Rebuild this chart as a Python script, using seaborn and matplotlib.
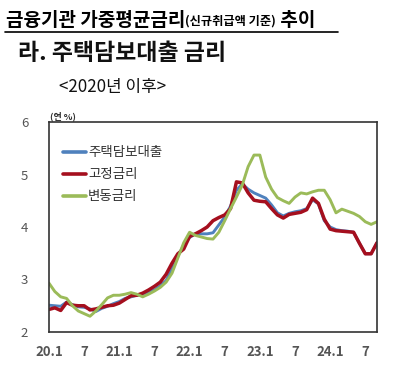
import matplotlib
matplotlib.use("Agg")
import matplotlib.pyplot as plt
import seaborn as sns
import pandas as pd
from matplotlib.lines import Line2D

# ---------------- data ----------------
series_names = ["주택담보대출", "고정금리", "변동금리"]
months = list(range(57))  # 2020.1 ... 2024.9
mortgage = [2.51, 2.50, 2.49, 2.57, 2.52, 2.48, 2.47, 2.44, 2.39, 2.45,
            2.49, 2.54, 2.58, 2.64, 2.67, 2.70, 2.72, 2.76, 2.80, 2.88,
            2.98, 3.20, 3.45, 3.65, 3.80, 3.87, 3.87, 3.87, 3.89, 4.04,
            4.19, 4.40, 4.70, 4.82, 4.72, 4.65, 4.60, 4.55, 4.42, 4.27,
            4.21, 4.26, 4.29, 4.31, 4.35, 4.52, 4.44, 4.12, 4.00, 3.95,
            3.93, 3.92, 3.90, 3.69, 3.49, 3.49, 3.70]
fixed = [2.43, 2.46, 2.41, 2.56, 2.51, 2.50, 2.50, 2.42, 2.44, 2.47,
         2.50, 2.51, 2.55, 2.62, 2.69, 2.70, 2.74, 2.80, 2.87, 2.95,
         3.10, 3.31, 3.49, 3.58, 3.82, 3.87, 3.93, 4.00, 4.12, 4.18,
         4.23, 4.35, 4.86, 4.84, 4.65, 4.51, 4.49, 4.48, 4.35, 4.23,
         4.17, 4.24, 4.26, 4.28, 4.33, 4.55, 4.45, 4.15, 3.96, 3.93,
         3.92, 3.91, 3.90, 3.69, 3.49, 3.49, 3.70]
variable = [2.93, 2.77, 2.67, 2.64, 2.50, 2.40, 2.35, 2.30, 2.40, 2.52,
            2.65, 2.70, 2.70, 2.72, 2.75, 2.72, 2.67, 2.72, 2.78, 2.85,
            2.95, 3.12, 3.41, 3.70, 3.90, 3.84, 3.81, 3.78, 3.77, 3.90,
            4.12, 4.35, 4.57, 4.80, 5.15, 5.37, 5.37, 4.95, 4.72, 4.56,
            4.50, 4.45, 4.57, 4.65, 4.63, 4.67, 4.70, 4.70, 4.52, 4.27,
            4.34, 4.30, 4.26, 4.20, 4.10, 4.05, 4.10]
x_tick_pos = [0, 6, 12, 18, 24, 30, 36, 42, 48, 54]
x_tick_labels = ["20.1", "7", "21.1", "7", "22.1", "7", "23.1", "7", "24.1", "7"]
y_ticks = [2, 3, 4, 5, 6]

df = pd.DataFrame({
    "month": months * 3,
    "rate": mortgage + fixed + variable,
    "series": [series_names[0]] * 57 + [series_names[1]] * 57 + [series_names[2]] * 57,
})

# ---------------- style ----------------
sns.set_style("white")
plt.rcParams["font.family"] = ["Noto Sans CJK KR", "DejaVu Sans"]

colors = {"주택담보대출": "#4f81bd", "고정금리": "#a50f1e", "변동금리": "#9bbb59"}

W, H = 411, 381
fig = plt.figure(figsize=(W / 100, H / 100), dpi=100)
ax = fig.add_axes([49 / W, 1 - 332 / H, (377 - 49) / W, (332 - 122) / H])

sns.lineplot(data=df, x="month", y="rate", hue="series", palette=colors,
             hue_order=series_names, linewidth=2.2, ax=ax, legend=False)
for ln, lw in zip(ax.get_lines(), [2.1, 2.5, 2.1]):
    ln.set_linewidth(lw)
    ln.set_solid_joinstyle("round")

ax.set_xlim(0, 56)
ax.set_ylim(2, 6)
ax.set_xlabel("")
ax.set_ylabel("")
ax.set_yticks(y_ticks)
ax.set_yticklabels([str(v) for v in y_ticks], fontsize=9.5, color="#555555")
minor = [m for m in range(0, 57, 3) if m not in x_tick_pos]
ax.set_xticks(x_tick_pos)
ax.set_xticklabels(x_tick_labels, fontsize=9.5, color="#555555", fontweight="bold")
ax.set_xticks(minor, minor=True)
ax.tick_params(axis="x", which="both", direction="in", length=5, width=1, color="#333333", pad=9)
ax.tick_params(axis="y", which="both", direction="in", length=5, width=1, color="#333333", pad=15)
for s in ax.spines.values():
    s.set_color("#333333")
    s.set_linewidth(1.2)

handles = [Line2D([0], [0], color=colors[n], lw=2.6) for n in series_names]
leg = ax.legend(handles, series_names, loc="upper left", bbox_to_anchor=(0.025, 0.915),
                frameon=False, fontsize=9.7, handlelength=1.75, handletextpad=0.15,
                labelspacing=0.6, borderaxespad=0)
for t in leg.get_texts():
    t.set_color("#333333")

# ---------------- texts ----------------
renderer = fig.canvas.get_renderer()
x0 = 6 / W
parts = [("금융기관 가중평균금리", 13.7), ("(신규취급액 기준)", 8.8), (" 추이", 13.7)]
for txt, fs in parts:
    t = fig.text(x0, 1 - 21 / H, txt, fontsize=fs, fontweight="bold",
                 va="center", ha="left", color="black")
    bb = t.get_window_extent(renderer=renderer)
    x0 = bb.x1 / W
fig.add_artist(Line2D([5 / W, 338 / W], [1 - 32 / H, 1 - 32 / H],
                      color="black", lw=1.2, transform=fig.transFigure))
fig.text(18 / W, 1 - 54 / H, "라. 주택담보대출 금리", fontsize=16.5, fontweight="bold",
         va="center", ha="left", color="#111111")
fig.text(59 / W, 1 - 87 / H, "<2020년 이후>", fontsize=12.2, va="center", ha="left",
         color="#111111")
fig.text(50 / W, 1 - 116 / H, "(연 %)", fontsize=6.5, fontweight="bold", va="center",
         ha="left", color="#333333")

fig.savefig("out.png", dpi=100)
